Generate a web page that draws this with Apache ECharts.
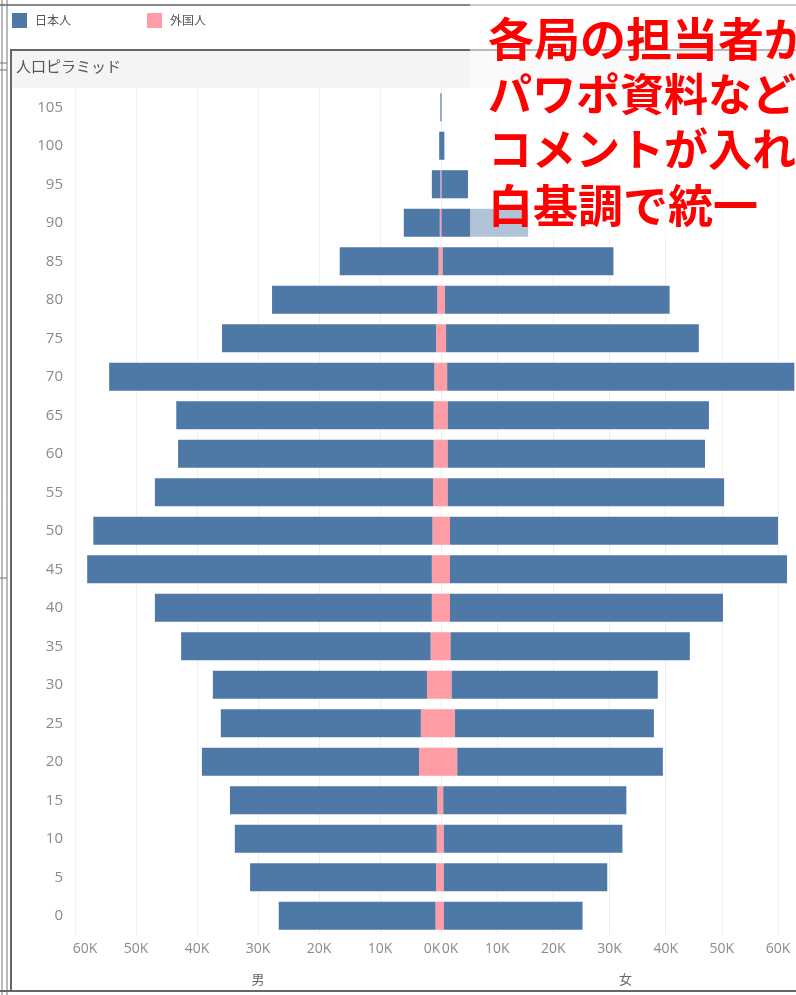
<!DOCTYPE html>
<html>
<head>
	<meta charset="utf-8">
	<title>人口ピラミッド</title>
	<script src="https://cdn.jsdelivr.net/npm/echarts@6/dist/echarts.min.js"></script>
	<style>
		body { margin: 0; background: #fff; }
	</style>
</head>
<body>
	<div id="main" style="width: 796px;height:995px;"></div>
	<script type="text/javascript">
		// age groups, bottom to top
		var ages = ['0','5','10','15','20','25','30','35','40','45','50','55','60','65','70','75','80','85','90','95','100','105'];
		// 男 (male)
		var maleJapanese = [25700, 30500, 33100, 34000, 35600, 32800, 35100, 40900, 45400, 56500, 55600, 45600, 41900, 42200, 53300, 35100, 27100, 16200, 5900, 1400, 300, 100];
		var maleForeign  = [900, 800, 700, 600, 3600, 3300, 2300, 1700, 1500, 1500, 1400, 1300, 1200, 1200, 1100, 800, 600, 400, 200, 100, 0, 0];
		// 女 (female)
		var femaleJapanese = [24700, 29100, 31800, 32600, 36600, 35400, 36700, 42600, 48600, 60000, 58400, 49200, 45800, 46500, 61800, 45000, 40000, 30400, 15400, 4700, 600, 100];
		var femaleForeign  = [500, 500, 500, 400, 2900, 2500, 1900, 1700, 1600, 1600, 1600, 1200, 1200, 1200, 1100, 900, 700, 300, 100, 100, 0, 0];

		var BLUE = '#4e79a7';
		var PINK = '#ff9da7';
		var LABEL = '#8a8a8a';

		var myChart = echarts.init(document.getElementById('main'));

		function kLabel(v) { return (v / 1000) + 'K'; }

		var option = {
			animation: false,
			backgroundColor: '#ffffff',
			textStyle: { fontFamily: "'Open Sans', 'Noto Sans CJK JP', sans-serif" },
			legend: {
				data: ['日本人', '外国人'],
				left: 12, top: 13, padding: 0,
				icon: 'rect',
				itemWidth: 15, itemHeight: 15,
				itemGap: 76,
				textStyle: { color: '#555', fontSize: 12, padding: [0, 0, 0, 3], fontFamily: 'Noto Sans CJK JP' }
			},
			grid: [
				{ left: 75, top: 88, width: 366, height: 847 },
				{ left: 441, top: 88, width: 355, height: 847 }
			],
			xAxis: [{
				gridIndex: 0, type: 'value', min: 0, max: 60000, interval: 10000, inverse: true,
				axisLine: { show: false }, axisTick: { show: false },
				splitLine: { lineStyle: { color: '#efefef' } },
				axisLabel: {
					color: LABEL, fontSize: 14, margin: 7,
					formatter: function (v) {
						if (v === 60000) return '{a|60K}';
						if (v === 0) return '{b|0K}';
						return kLabel(v);
					},
					rich: {
						a: { color: LABEL, fontSize: 14, padding: [0, 0, 0, 20] },
						b: { color: LABEL, fontSize: 14, padding: [0, 18, 0, 0] }
					}
				},
				name: '男', nameLocation: 'middle', nameGap: 38,
				nameTextStyle: { color: '#666', fontSize: 13, fontFamily: 'Noto Sans CJK JP' }
			}, {
				gridIndex: 1, type: 'value', min: 0, max: 63200, interval: 10000,
				axisLine: { show: false }, axisTick: { show: false },
				splitLine: { lineStyle: { color: '#efefef' } },
				axisLabel: {
					color: LABEL, fontSize: 14, margin: 7, showMaxLabel: false,
					formatter: function (v) {
						if (v === 0) return '{c|0K}';
						return kLabel(v);
					},
					rich: {
						c: { color: LABEL, fontSize: 14, padding: [0, 0, 0, 18] }
					}
				},
				name: '女', nameLocation: 'middle', nameGap: 38,
				nameTextStyle: { color: '#666', fontSize: 13, fontFamily: 'Noto Sans CJK JP', padding: [0, 0, 0, 14] }
			}],
			yAxis: [{
				gridIndex: 0, type: 'category', data: ages,
				axisLine: { show: false }, axisTick: { show: false },
				axisLabel: { color: LABEL, fontSize: 15, margin: 12 }
			}, {
				gridIndex: 1, type: 'category', data: ages,
				axisLine: { show: false }, axisTick: { show: false },
				axisLabel: { show: false }
			}],
			series: [
				{ name: '外国人', type: 'bar', xAxisIndex: 0, yAxisIndex: 0, stack: 'm', data: maleForeign,
				  itemStyle: { color: PINK }, barCategoryGap: '27%' },
				{ name: '日本人', type: 'bar', xAxisIndex: 0, yAxisIndex: 0, stack: 'm', data: maleJapanese,
				  itemStyle: { color: BLUE }, barCategoryGap: '27%' },
				{ name: '外国人', type: 'bar', xAxisIndex: 1, yAxisIndex: 1, stack: 'f', data: femaleForeign,
				  itemStyle: { color: PINK }, barCategoryGap: '27%' },
				{ name: '日本人', type: 'bar', xAxisIndex: 1, yAxisIndex: 1, stack: 'f', data: femaleJapanese,
				  itemStyle: { color: BLUE }, barCategoryGap: '27%' }
			],
			graphic: [
				// title band
				{ type: 'rect', z: -10, shape: { x: 12, y: 51, width: 784, height: 37 }, style: { fill: '#f4f4f4' } },
				{ type: 'text', left: 16, top: 59, style: { text: '人口ピラミッド', fill: '#555', fontSize: 15, fontFamily: 'Noto Sans CJK JP' } },
				// frame lines
				{ type: 'line', shape: { x1: 0, y1: 5, x2: 796, y2: 5 }, style: { stroke: '#888', lineWidth: 2 } },
				{ type: 'line', shape: { x1: 11, y1: 50, x2: 796, y2: 50 }, style: { stroke: '#666', lineWidth: 2 } },
				{ type: 'line', shape: { x1: 11, y1: 49, x2: 11, y2: 992 }, style: { stroke: '#666', lineWidth: 2 } },
				{ type: 'line', shape: { x1: 2, y1: 0, x2: 2, y2: 995 }, style: { stroke: '#777', lineWidth: 1 } },
				{ type: 'line', shape: { x1: 7, y1: 0, x2: 7, y2: 995 }, style: { stroke: '#777', lineWidth: 1 } },
				{ type: 'line', shape: { x1: 0, y1: 991, x2: 796, y2: 991 }, style: { stroke: '#666', lineWidth: 2 } },
				{ type: 'line', shape: { x1: 0, y1: 63, x2: 7, y2: 63 }, style: { stroke: '#777', lineWidth: 1 } },
				{ type: 'line', shape: { x1: 0, y1: 70, x2: 7, y2: 70 }, style: { stroke: '#777', lineWidth: 1 } },
				{ type: 'line', shape: { x1: 0, y1: 578, x2: 7, y2: 578 }, style: { stroke: '#777', lineWidth: 1 } },
				// comment overlay
				{ type: 'rect', z: 100, shape: { x: 470, y: 0, width: 326, height: 240 }, style: { fill: 'rgba(255,255,255,0.55)' } },
				{ type: 'text', z: 101, left: 488, top: 16, style: { text: '各局の担当者が', fill: '#ff0000', fontSize: 46, fontWeight: 'bold', fontFamily: 'Noto Sans CJK JP' } },
				{ type: 'text', z: 101, left: 488, top: 72, style: { text: 'パワポ資料などに', fill: '#ff0000', fontSize: 44, fontWeight: 'bold', fontFamily: 'Noto Sans CJK JP' } },
				{ type: 'text', z: 101, left: 488, top: 127, style: { text: 'コメントが入れやすい', fill: '#ff0000', fontSize: 44, fontWeight: 'bold', fontFamily: 'Noto Sans CJK JP' } },
				{ type: 'text', z: 101, left: 488, top: 183, style: { text: '白基調で統一', fill: '#ff0000', fontSize: 45, fontWeight: 'bold', fontFamily: 'Noto Sans CJK JP' } }
			]
		};

		myChart.setOption(option);
	</script>
</body>
</html>
